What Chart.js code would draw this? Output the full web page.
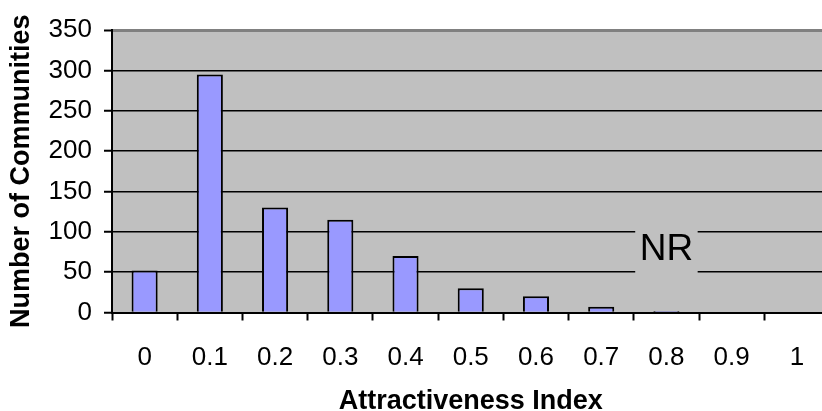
<!DOCTYPE html>
<html>
<head>
<meta charset="utf-8">
<script src="https://cdn.jsdelivr.net/npm/chart.js@4"></script>
<style>
  html, body { margin: 0; padding: 0; background: #fff; overflow: hidden; }
  #wrap { width: 840px; height: 411px; }
</style>
</head>
<body>
<div id="wrap"><canvas id="grafico" width="840" height="411"></canvas></div>
<script>
// categorias e valores do histograma
const categorias = ['0', '0.1', '0.2', '0.3', '0.4', '0.5', '0.6', '0.7', '0.8', '0.9', '1'];
const comunidades = [52, 295, 130, 115, 70, 30, 20, 7, 2, 0, 0];
const yMax = 350;
const yStep = 50;

const FONTE = "'Liberation Sans', Arial, sans-serif";

// fundo cinza da area do grafico
const fundoPlot = {
  id: 'fundoPlot',
  beforeDraw(chart) {
    const a = chart.chartArea;
    const ctx = chart.ctx;
    ctx.save();
    ctx.fillStyle = '#c0c0c0';
    ctx.fillRect(a.left, a.top, a.right - a.left, a.bottom - a.top);
    ctx.restore();
  }
};

// rotulo "NR" sobre as linhas de grade
const rotuloNR = {
  id: 'rotuloNR',
  afterDatasetsDraw(chart) {
    const ctx = chart.ctx;
    const x = chart.scales.x.getPixelForValue(8);
    const y = chart.scales.y.getPixelForValue(80);
    ctx.save();
    ctx.font = '37px ' + FONTE;
    const w = ctx.measureText('NR').width + 9;
    ctx.fillStyle = '#c0c0c0';
    ctx.fillRect(x - w / 2, y - 26, w, 53);
    ctx.fillStyle = '#000';
    ctx.textAlign = 'center';
    ctx.textBaseline = 'middle';
    ctx.fillText('NR', x, y + 2);
    ctx.restore();
  }
};

new Chart(document.getElementById('grafico'), {
  type: 'bar',
  data: {
    labels: categorias,
    datasets: [{
      data: comunidades,
      backgroundColor: '#9999ff',
      borderColor: '#000',
      borderWidth: 2,
      barPercentage: 0.4,
      categoryPercentage: 1
    }]
  },
  options: {
    responsive: false,
    animation: false,
    layout: { padding: { top: 30, right: 10.5, left: 0, bottom: 0 } },
    plugins: {
      legend: { display: false },
      tooltip: { enabled: false }
    },
    scales: {
      x: {
        offset: true,
        grid: {
          offset: true,
          drawOnChartArea: false,
          tickLength: 8,
          tickColor: '#000',
          tickWidth: 2
        },
        border: { color: '#000', width: 2 },
        ticks: {
          color: '#000',
          font: { family: FONTE, size: 26 },
          padding: 22,
          maxRotation: 0
        },
        title: {
          display: true,
          text: 'Attractiveness Index',
          color: '#000',
          font: { family: FONTE, size: 27, weight: 'bold', lineHeight: 1 },
          padding: { top: 0, bottom: -4 }
        },
        afterFit(scale) { scale.height = 98.5; }
      },
      y: {
        min: 0,
        max: yMax,
        ticks: {
          stepSize: yStep,
          color: '#000',
          font: { family: FONTE, size: 26 },
          padding: 12
        },
        grid: {
          color: ctx => ctx.tick && ctx.tick.value === yMax ? '#808080' : '#000',
          lineWidth: ctx => ctx.tick && ctx.tick.value === yMax ? 3 : 1.5,
          tickLength: 8,
          tickColor: '#000',
          tickWidth: 2
        },
        border: { color: '#000', width: 2 },
        title: {
          display: true,
          text: 'Number of Communities',
          color: '#000',
          font: { family: FONTE, size: 27, weight: 'bold', lineHeight: 1 },
          padding: { top: 8, bottom: 0 }
        },
        afterFit(scale) { scale.width = 112; }
      }
    }
  },
  plugins: [fundoPlot, rotuloNR]
});
</script>
</body>
</html>
